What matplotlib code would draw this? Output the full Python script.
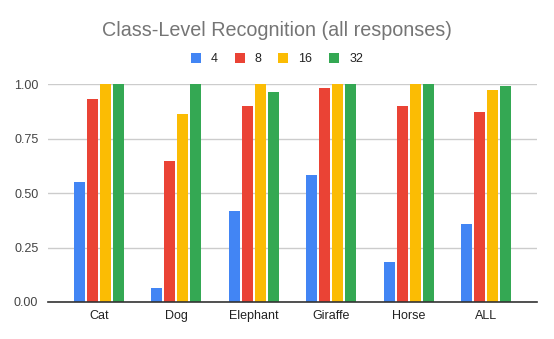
import matplotlib
matplotlib.use("Agg")
import matplotlib.pyplot as plt
import numpy as np

plt.rcParams['font.family'] = ['Liberation Sans', 'DejaVu Sans']

categories = ["Cat", "Dog", "Elephant", "Giraffe", "Horse", "ALL"]
series_names = ["4", "8", "16", "32"]
vals_4 = [0.55, 0.066, 0.419, 0.584, 0.185, 0.359]
vals_8 = [0.933, 0.648, 0.90, 0.983, 0.90, 0.873]
vals_16 = [1.0, 0.864, 1.0, 1.0, 1.0, 0.974]
vals_32 = [1.0, 1.0, 0.965, 1.0, 1.0, 0.992]
yticks = [0.0, 0.25, 0.5, 0.75, 1.0]
colors = ["#4285F4", "#EA4335", "#FBBC04", "#34A853"]

series = [vals_4, vals_8, vals_16, vals_32]

fig = plt.figure(figsize=(5.54, 3.39), dpi=100)
ax = fig.add_axes([48/554, 1-302/339, (537-48)/554, (302-84.3)/339])

x = np.arange(len(categories))
pitch = 0.168
width = 0.1425
for i, (vals, c, name) in enumerate(zip(series, colors, series_names)):
    ax.bar(x + (i - 1.5) * pitch, vals, width=width, color=c, label=name, zorder=3)

ax.set_xlim(-0.66, len(categories) - 1 + 0.66)
ax.set_ylim(0, 1.0)
ax.set_yticks(yticks)
ax.set_yticklabels([f"{t:.2f}" for t in yticks], fontsize=9, color="#444444")
ax.set_xticks(x)
ax.set_xticklabels(categories, fontsize=9, color="#222222")
ax.tick_params(axis='x', length=0, pad=6)
ax.tick_params(axis='y', length=0, pad=7)
ax.yaxis.grid(True, color="#cccccc", linewidth=1, zorder=0)
ax.set_axisbelow(True)
for s in ["top", "right", "left"]:
    ax.spines[s].set_visible(False)
ax.spines["bottom"].set_color("#333333")
ax.spines["bottom"].set_linewidth(1.2)
ax.spines["bottom"].set_zorder(4)

fig.text(0.5, 1-30/339, "Class-Level Recognition (all responses)", ha="center", va="center",
         fontsize=14.2, color="#757575")

fig.legend(loc="center", bbox_to_anchor=(0.5, 1-59/339), ncol=4, frameon=False,
           fontsize=9, handlelength=0.8, handleheight=0.8, handletextpad=0.8,
           columnspacing=1.35, labelcolor="#222222")

fig.savefig("out.png", dpi=100, facecolor="white")
